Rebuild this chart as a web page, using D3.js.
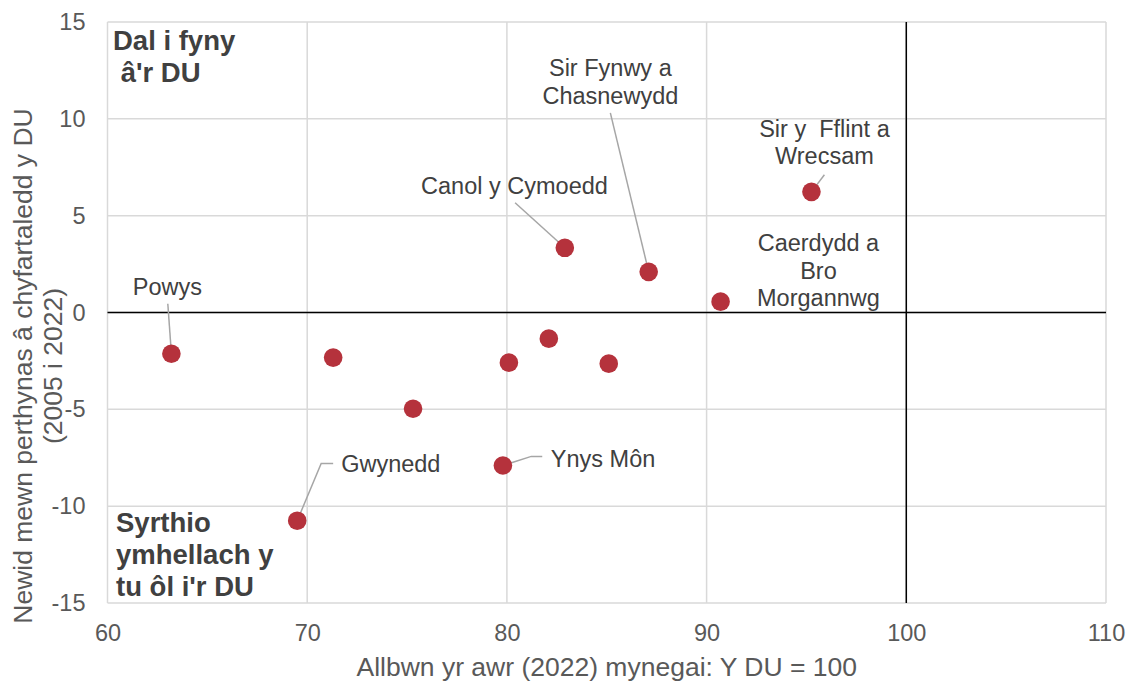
<!DOCTYPE html>
<html>
<head>
<meta charset="utf-8">
<script src="https://cdn.jsdelivr.net/npm/d3@7"></script>
<style>
  body { margin: 0; background: #fff; }
  text { font-family: "Liberation Sans", Arial, sans-serif; }
</style>
</head>
<body>
<div id="chart"></div>
<script>
// data
const productivity = [63.2, 71.3, 75.3, 69.5, 80.1, 82.1, 85.1, 79.8, 82.9, 87.1, 90.7, 95.25]
const change = [-2.13, -2.33, -4.97, -10.75, -2.59, -1.35, -2.64, -7.9, 3.34, 2.1, 0.56, 6.23]
const xTicks = [60, 70, 80, 90, 100, 110]
const yTicks = [-15, -10, -5, 0, 5, 10, 15]

// labels: index of point, text lines, anchor (data units), leader path (data units)
const labels = [
  {i: 0, lines: ["Powys"], at: [63.0, 0.92], anchor: "middle", leader: [[63.02, 0.45]]},
  {i: 8, lines: ["Canol y Cymoedd"], at: [80.38, 6.1], anchor: "middle", leader: [[80.41, 5.67]]},
  {i: 9, lines: ["Sir Fynwy a", "Chasnewydd"], at: [85.18, 12.2], anchor: "middle", leader: [[85.18, 10.31]]},
  {i: 11, lines: ["Sir y\u00a0 Fflint a", "Wrecsam"], at: [95.9, 9.08], anchor: "middle", leader: [[95.9, 7.11]]},
  {i: 10, lines: ["Caerdydd a", "Bro", "Morgannwg"], at: [95.6, 3.16], anchor: "middle", leader: null},
  {i: 3, lines: ["Gwynedd"], at: [71.7, -8.25], anchor: "start", leader: [[71.3, -7.8], [70.7, -7.8]]},
  {i: 7, lines: ["Ynys Môn"], at: [82.2, -7.98], anchor: "start", leader: [[81.77, -7.43], [81.22, -7.43]]}
]

const data = productivity.map((v, k) => ({x: v, y: change[k]}))

var margin = {top: 22, right: 24, bottom: 79, left: 107.5},
  width = 1130 - margin.left - margin.right,
  height = 682 - margin.top - margin.bottom;

var svg = d3.select("#chart").append("svg")
  .attr("width", 1130)
  .attr("height", 682)
  .append("g")
  .attr("transform", "translate(" + margin.left + "," + margin.top + ")");

var x = d3.scaleLinear().domain([60, 110]).range([0, width])
var y = d3.scaleLinear().domain([-15, 15]).range([height, 0])

// gridlines
svg.append("g").selectAll("line")
  .data(xTicks).enter().append("line")
  .attr("x1", d => x(d)).attr("x2", d => x(d))
  .attr("y1", 0).attr("y2", height)
  .attr("stroke", "#d9d9d9").attr("stroke-width", 1.5)
svg.append("g").selectAll("line")
  .data(yTicks).enter().append("line")
  .attr("x1", 0).attr("x2", width)
  .attr("y1", d => y(d)).attr("y2", d => y(d))
  .attr("stroke", "#d9d9d9").attr("stroke-width", 1.5)

// axes (labels only)
var xAxis = svg.append("g")
  .attr("transform", "translate(0," + height + ")")
  .call(d3.axisBottom(x).tickValues(xTicks).tickSize(0).tickPadding(21))
var yAxis = svg.append("g")
  .call(d3.axisLeft(y).tickValues(yTicks).tickSize(0).tickPadding(22).tickFormat(d => String(d)))
;[xAxis, yAxis].forEach(a => {
  a.select(".domain").remove()
  a.selectAll("text")
    .style("font-family", "Liberation Sans, Arial, sans-serif")
    .style("font-size", "23.5px")
    .attr("fill", "#595959")
})

// quadrant lines
svg.append("line")
  .attr("x1", 0).attr("x2", width)
  .attr("y1", y(0)).attr("y2", y(0))
  .attr("stroke", "#000").attr("stroke-width", 1.5)
svg.append("line")
  .attr("x1", x(100)).attr("x2", x(100))
  .attr("y1", 0).attr("y2", height)
  .attr("stroke", "#000").attr("stroke-width", 1.5)

// leader lines
labels.filter(l => l.leader).forEach(l => {
  var p = data[l.i]
  var pts = l.leader.concat([[p.x, p.y]])
  svg.append("path")
    .attr("d", d3.line().x(d => x(d[0])).y(d => y(d[1]))(pts))
    .attr("fill", "none")
    .attr("stroke", "#a6a6a6")
    .attr("stroke-width", 1.5)
})

// points
svg.selectAll("circle")
  .data(data)
  .enter()
  .append("circle")
    .attr("cx", d => x(d.x))
    .attr("cy", d => y(d.y))
    .attr("r", 9.3)
    .style("fill", "#b5323c")

// point labels
labels.forEach(l => {
  var t = svg.append("text")
    .attr("x", x(l.at[0]))
    .attr("y", y(l.at[1]))
    .attr("text-anchor", l.anchor)
    .attr("fill", "#404040")
    .style("font-size", "23.5px")
  l.lines.forEach((s, k) => {
    t.append("tspan").attr("x", x(l.at[0])).attr("dy", k == 0 ? 0 : 27.5).text(s)
  })
})

// quadrant notes
function note(lines, px, py) {
  var t = svg.append("text")
    .attr("x", px).attr("y", py)
    .attr("fill", "#404040")
    .style("font-size", "27.5px")
    .style("font-weight", "bold")
  lines.forEach((s, k) => {
    t.append("tspan").attr("x", px).attr("dy", k == 0 ? 0 : 32).text(s)
  })
}
note(["Dal i fyny", "\u00a0â'r DU"], 5.5, 28)
note(["Syrthio", "ymhellach y", "tu ôl i'r DU"], 8.5, 510)

// axis titles
svg.append("text")
  .attr("x", width / 2)
  .attr("y", height + 73)
  .attr("text-anchor", "middle")
  .attr("fill", "#595959")
  .style("font-size", "26.5px")
  .text("Allbwn yr awr (2022) mynegai: Y DU = 100")

var yt = svg.append("text")
  .attr("transform", "translate(" + (-76) + "," + (366 - margin.top) + ") rotate(-90)")
  .attr("text-anchor", "middle")
  .attr("fill", "#595959")
  .style("font-size", "26.5px")
yt.append("tspan").attr("x", 0).attr("dy", 0).text("Newid mewn perthynas â chyfartaledd y DU")
yt.append("tspan").attr("x", 0).attr("dy", 30).text("(2005 i 2022)")
</script>
</body>
</html>
